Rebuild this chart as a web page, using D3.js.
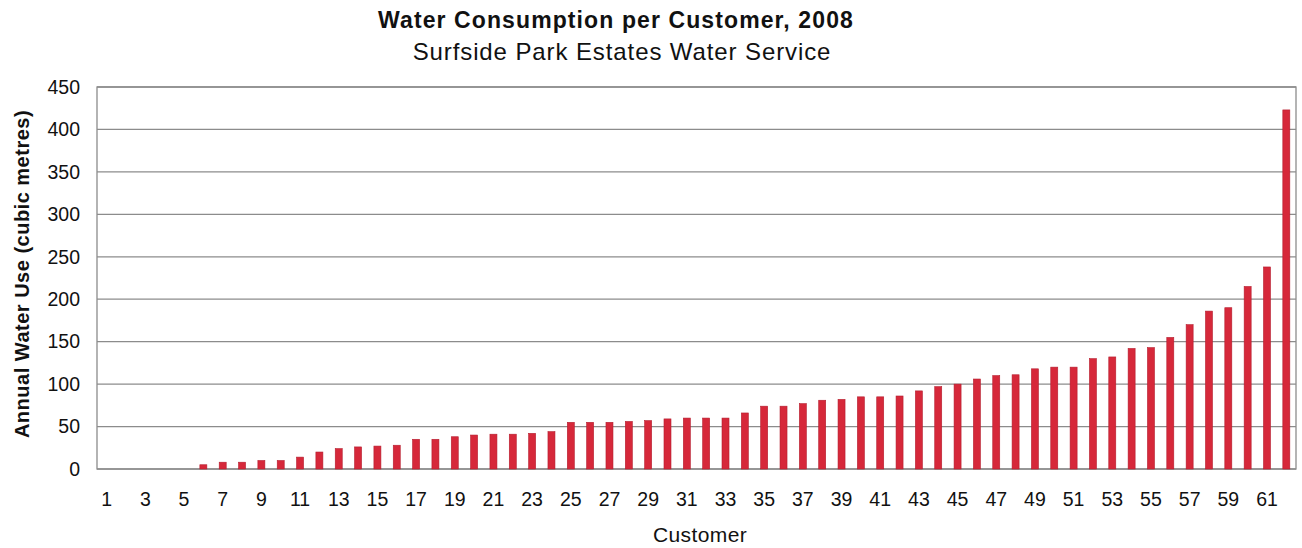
<!DOCTYPE html>
<html>
<head>
<meta charset="utf-8">
<script src="https://cdn.jsdelivr.net/npm/d3@7"></script>
<style>
  body { margin: 0; background: #fff; }
  text { font-family: "Liberation Sans", Arial, sans-serif; }
</style>
</head>
<body>
<svg id="chart" width="1302" height="548"></svg>
<script>
// customers 1..62, sorted by annual use (cubic metres)
const customers = d3.range(1, 63);
const waterUse = [
  0, 0, 0, 0, 0, 5, 8, 8, 10, 10,
  14, 20, 24, 26, 27, 28, 35, 35, 38, 40,
  41, 41, 42, 44, 55, 55, 55, 56, 57, 59,
  60, 60, 60, 66, 74, 74, 77, 81, 82, 85,
  85, 86, 92, 97, 100, 106, 110, 111, 118, 120,
  120, 130, 132, 142, 143, 155, 170, 186, 190, 215,
  238, 423
];
const yTicks = d3.range(0, 451, 50);

const titleText = 'Water Consumption  per Customer, 2008';
const subtitleText = 'Surfside Park Estates Water Service';
const yTitle = 'Annual Water Use (cubic metres)';
const xTitle = 'Customer';

const margin = {top: 87, right: 6, bottom: 79, left: 97};
const width = 1302, height = 548;

const svg = d3.select('#chart');

const x = d3.scaleBand()
  .domain(customers)
  .range([margin.left, width - margin.right]);

const y = d3.scaleLinear()
  .domain([0, 450])
  .range([height - margin.bottom, margin.top]);

// gridlines
svg.append('g')
  .selectAll('line')
  .data(yTicks)
  .join('line')
  .attr('x1', margin.left)
  .attr('x2', width - margin.right)
  .attr('y1', d => y(d))
  .attr('y2', d => y(d))
  .style('stroke', '#8c8c8c')
  .style('stroke-width', 1.3);

// plot frame
svg.append('rect')
  .attr('x', margin.left)
  .attr('y', margin.top)
  .attr('width', width - margin.left - margin.right)
  .attr('height', height - margin.top - margin.bottom)
  .style('fill', 'none')
  .style('stroke', '#8c8c8c')
  .style('stroke-width', 1.3);

// bars
const barW = 7;
svg.append('g')
  .selectAll('rect')
  .data(customers)
  .join('rect')
  .attr('x', d => x(d) + x.bandwidth() / 2 - barW / 2)
  .attr('y', (d, i) => y(waterUse[i]))
  .attr('width', barW)
  .attr('height', (d, i) => y(0) - y(waterUse[i]))
  .style('fill', '#d6283a')
  .style('stroke', '#b51d2e')
  .style('stroke-width', 0.6);

// y axis labels
const yAxis = d3.axisLeft(y).tickValues(yTicks).tickSize(0).tickPadding(17);
svg.append('g')
  .attr('transform', `translate(${margin.left},0)`)
  .call(yAxis)
  .call(g => g.select('.domain').remove())
  .selectAll('text')
  .style('font-size', '19.5px')
  .style('fill', '#111');

// x axis labels, odd customers only
const xAxis = d3.axisBottom(x)
  .tickValues(customers.filter(d => d % 2 === 1))
  .tickSize(0)
  .tickPadding(23);
svg.append('g')
  .attr('transform', `translate(0,${height - margin.bottom})`)
  .call(xAxis)
  .call(g => g.select('.domain').remove())
  .selectAll('text')
  .style('font-size', '19.5px')
  .style('fill', '#111');

// titles
svg.append('text')
  .attr('x', 616)
  .attr('y', 28)
  .attr('text-anchor', 'middle')
  .style('font-size', '23px')
  .style('font-weight', 'bold')
  .style('letter-spacing', '1.1px')
  .style('fill', '#111')
  .text(titleText);

svg.append('text')
  .attr('x', 622)
  .attr('y', 60)
  .attr('text-anchor', 'middle')
  .style('font-size', '24px')
  .style('letter-spacing', '0.9px')
  .style('fill', '#111')
  .text(subtitleText);

svg.append('text')
  .attr('transform', `translate(29, ${(margin.top + height - margin.bottom) / 2 - 4}) rotate(-90)`)
  .attr('text-anchor', 'middle')
  .style('font-size', '20px')
  .style('font-weight', 'bold')
  .style('letter-spacing', '0.5px')
  .style('fill', '#111')
  .text(yTitle);

svg.append('text')
  .attr('x', 700)
  .attr('y', 542)
  .attr('text-anchor', 'middle')
  .style('font-size', '21px')
  .style('letter-spacing', '0.4px')
  .style('fill', '#111')
  .text(xTitle);
</script>
</body>
</html>
